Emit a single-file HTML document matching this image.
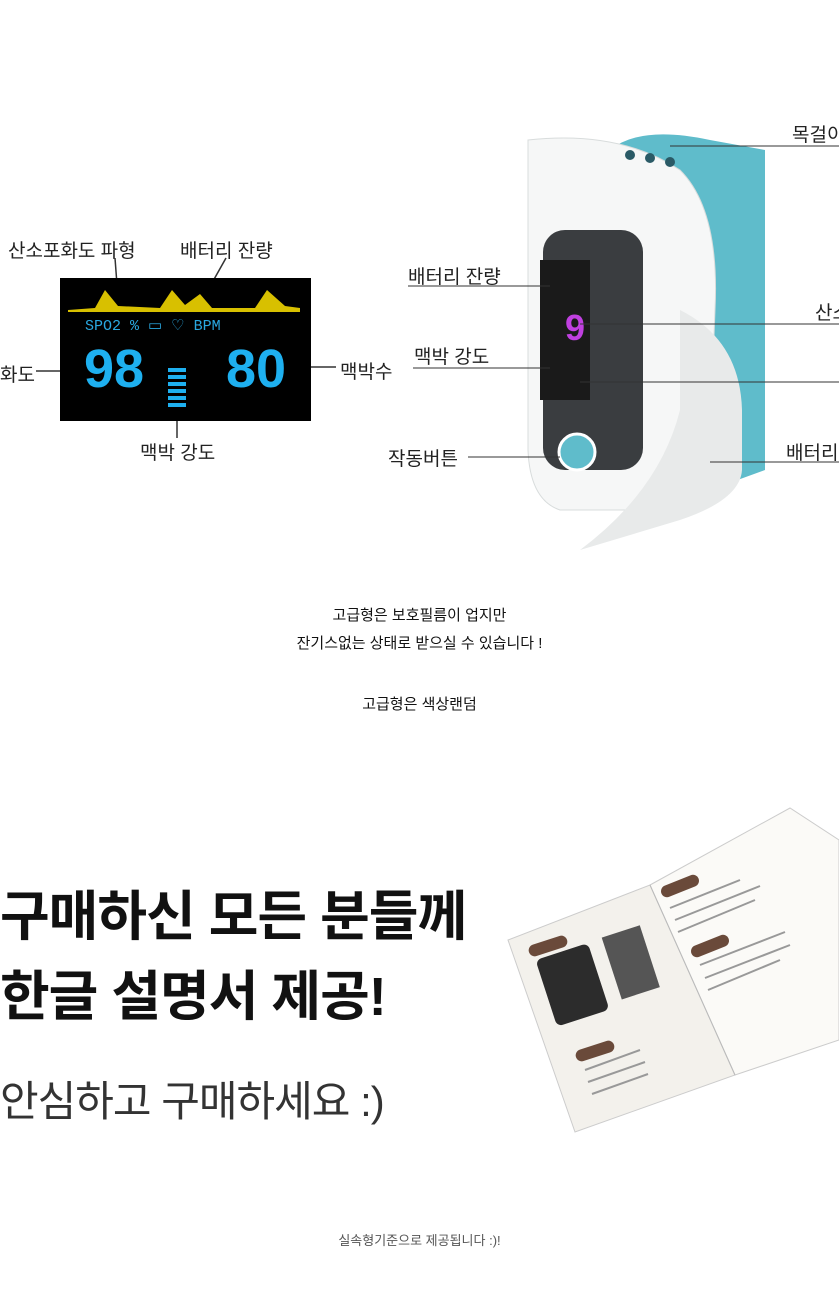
<!DOCTYPE html>
<html><head><meta charset="utf-8">
<style>
body{margin:0;background:#fff;width:839px;height:1316px;position:relative;overflow:hidden;font-family:"Liberation Sans","Noto Sans CJK KR",sans-serif;}
.a{position:absolute;white-space:nowrap;}
.lbl{font-size:19px;color:#222;}
.c{position:absolute;left:0;width:839px;text-align:center;font-size:15px;color:#111;}
</style></head><body>

<div class="a lbl" style="left:8px;top:236px">산소포화도 파형</div>
<div class="a lbl" style="left:180px;top:236px">배터리 잔량</div>
<div class="a lbl" style="left:0;top:360px">화도</div>
<div class="a lbl" style="left:340px;top:357px">맥박수</div>
<div class="a lbl" style="left:140px;top:438px">맥박 강도</div>
<svg class="a" style="left:0;top:250px" width="360" height="190">
<line x1="115" y1="8" x2="118" y2="48" stroke="#333" stroke-width="1.5"/>
<line x1="226" y1="8" x2="190" y2="72" stroke="#333" stroke-width="1.5"/>
<line x1="36" y1="121" x2="88" y2="121" stroke="#333" stroke-width="1.5"/>
<line x1="286" y1="117" x2="336" y2="117" stroke="#333" stroke-width="1.5"/>
<line x1="177" y1="150" x2="177" y2="188" stroke="#333" stroke-width="1.5"/>
<rect x="60" y="28" width="251" height="143" fill="#000"/>
<path d="M68 60 L95 58 L105 40 L118 56 L160 58 L172 40 L185 55 L200 44 L212 58 L255 58 L267 40 L285 56 L300 58 L300 62 L68 62Z" fill="#d8c000"/>
<text x="85" y="80" fill="#2aa8e0" font-size="15" font-family="Liberation Mono">SPO2 %  ▭  ♡ BPM</text>
<text x="84" y="137" fill="#1eb0f0" font-size="54" font-weight="bold" font-family="Liberation Sans">98</text>
<text x="226" y="137" fill="#1eb0f0" font-size="54" font-weight="bold" font-family="Liberation Sans">80</text>
<g fill="#1eb0f0"><rect x="168" y="118" width="18" height="4"/><rect x="168" y="125" width="18" height="4"/><rect x="168" y="132" width="18" height="4"/><rect x="168" y="139" width="18" height="4"/><rect x="168" y="146" width="18" height="4"/><rect x="168" y="153" width="18" height="4"/></g>
</svg>

<svg class="a" style="left:380px;top:110px" width="459" height="445">
<path d="M230 40 Q260 15 330 30 L385 40 L385 360 L330 380 L260 360Z" fill="#5fbccb"/>
<path d="M148 30 Q240 20 300 60 Q340 100 335 200 L330 330 Q320 380 270 400 L180 400 Q150 390 148 340Z" fill="#f6f7f7" stroke="#d8dcdc"/>
<rect x="163" y="120" width="100" height="240" rx="22" fill="#3a3d40"/>
<rect x="160" y="150" width="50" height="140" fill="#1a1a1a"/>
<text x="185" y="230" fill="#c040e0" font-size="36" font-weight="bold">9</text>
<circle cx="197" cy="342" r="18" fill="#5fbccb" stroke="#fff" stroke-width="3"/>
<path d="M300 200 Q360 230 362 300 L362 360 Q360 390 300 410 L200 440 Q280 380 300 300Z" fill="#e8eaea"/>
<circle cx="250" cy="45" r="5" fill="#2a5a66"/><circle cx="270" cy="48" r="5" fill="#2a5a66"/><circle cx="290" cy="52" r="5" fill="#2a5a66"/>
<line x1="28" y1="176" x2="170" y2="176" stroke="#333"/>
<line x1="33" y1="258" x2="170" y2="258" stroke="#333"/>
<line x1="88" y1="347" x2="180" y2="347" stroke="#333"/>
<line x1="290" y1="36" x2="459" y2="36" stroke="#333"/>
<line x1="200" y1="214" x2="459" y2="214" stroke="#333"/>
<line x1="200" y1="272" x2="459" y2="272" stroke="#333"/>
<line x1="330" y1="352" x2="459" y2="352" stroke="#333"/>
</svg>
<div class="a lbl" style="left:408px;top:262px">배터리 잔량</div>
<div class="a lbl" style="left:414px;top:342px">맥박 강도</div>
<div class="a lbl" style="left:388px;top:444px">작동버튼</div>
<div class="a lbl" style="left:792px;top:120px">목걸이</div>
<div class="a lbl" style="left:815px;top:298px">산소</div>
<div class="a lbl" style="left:786px;top:438px">배터리</div>

<div class="c" style="top:604px">고급형은 보호필름이 업지만</div>
<div class="c" style="top:632px">잔기스없는 상태로 받으실 수 있습니다 !</div>
<div class="c" style="top:693px">고급형은 색상랜덤</div>

<div class="a" style="left:0;top:872px;font-size:54px;font-weight:bold;color:#111;letter-spacing:-1px">구매하신 모든 분들께</div>
<div class="a" style="left:0;top:952px;font-size:54px;font-weight:bold;color:#111;letter-spacing:-1px">한글 설명서 제공!</div>
<div class="a" style="left:0;top:1068px;font-size:42px;color:#333;letter-spacing:-1px">안심하고 구매하세요 :)</div>

<svg class="a" style="left:500px;top:800px" width="339" height="340">
<polygon points="8,140 150,85 235,275 75,332" fill="#f3f1ec" stroke="#ccc"/>
<polygon points="150,85 290,8 339,40 339,240 235,275" fill="#fbfaf7" stroke="#ccc"/>
<line x1="150" y1="85" x2="235" y2="275" stroke="#bbb"/>
<rect x="45" y="150" width="55" height="70" rx="6" fill="#2c2c2c" transform="rotate(-18 72 185)"/>
<rect x="110" y="130" width="40" height="65" fill="#555" transform="rotate(-18 130 160)"/>
<rect x="28" y="140" width="40" height="12" rx="6" fill="#6a4a3a" transform="rotate(-18 48 146)"/>
<rect x="160" y="80" width="40" height="12" rx="6" fill="#6a4a3a" transform="rotate(-22 180 86)"/>
<rect x="190" y="140" width="40" height="12" rx="6" fill="#6a4a3a" transform="rotate(-22 210 146)"/>
<rect x="75" y="245" width="40" height="12" rx="6" fill="#6a4a3a" transform="rotate(-18 95 251)"/>
<g stroke="#999" stroke-width="2"><line x1="170" y1="108" x2="240" y2="80"/><line x1="175" y1="120" x2="260" y2="86"/><line x1="178" y1="132" x2="255" y2="100"/><line x1="200" y1="165" x2="285" y2="132"/><line x1="205" y1="178" x2="290" y2="145"/><line x1="208" y1="190" x2="280" y2="160"/><line x1="85" y1="270" x2="140" y2="250"/><line x1="88" y1="282" x2="145" y2="262"/><line x1="92" y1="294" x2="148" y2="274"/></g>
</svg>

<div class="c" style="top:1230px;font-size:13px;color:#555">실속형기준으로 제공됩니다 :)!</div>
</body></html>
